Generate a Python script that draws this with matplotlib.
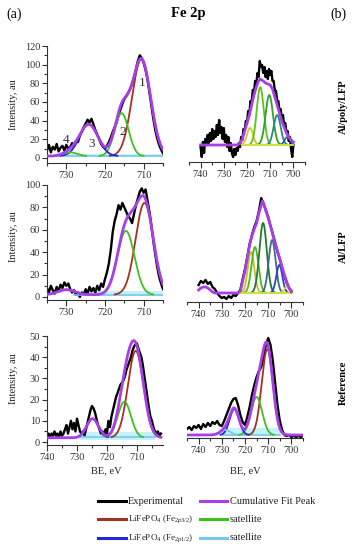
import numpy as np
import matplotlib
matplotlib.use('Agg')
import matplotlib.pyplot as plt
from matplotlib.ticker import MultipleLocator
from matplotlib.lines import Line2D

plt.rcParams['font.family'] = ['Liberation Serif', 'DejaVu Serif']
plt.rcParams['mathtext.fontset'] = 'custom'
plt.rcParams['mathtext.rm'] = 'Liberation Serif'
plt.rcParams['mathtext.it'] = 'Liberation Serif:italic'

# ---------------- colours ----------------
C_EXP = '#000000'
C_CUM = '#a83ee6'
C_P32 = '#a3321e'
C_SATG = '#3cc21c'
C_P12 = '#2424d8'
C_SATB = '#78c8ee'
C_BAND = '#c4f2f6'

# ---------------- legend ----------------
legend_labels = ['Experimental', 'Cumulative Fit Peak',
                 'LiFePO$_4$ (Fe$_{2p3/2}$)', 'satellite',
                 'LiFePO$_4$ (Fe$_{2p1/2}$)', 'satellite']
legend_colors = [C_EXP, C_CUM, C_P32, C_SATG, C_P12, C_SATB]

# ================= (a) top : Fe 2p =================
a1_be_range = (735, 705)
a1_counts = [8, 14, 6, 12, 9, 15, 7, 11, 13, 8, 14, 10, 12, 16, 13, 18, 17, 24, 28, 33,
             37, 41, 38, 42, 36, 30, 25, 20, 15, 12, 10, 13, 17, 22, 28, 33, 38, 46, 52, 58,
             63, 66, 70, 74, 79, 85, 95, 104, 110, 107, 102, 94, 84, 70, 56, 42, 30, 21, 14, 9, 5]
a1_peak_center = [710.6, 715.7, 724.2, 729.0]
a1_peak_height = [104, 46, 34, 4]
a1_peak_sigma = [2.4, 1.8, 2.4, 1.8]
a1_peak_color = [C_P32, C_SATG, C_P12, C_SATG]
a1_baseline = 2
a1_band = (733, 705, 0.5, 4.5)

# ================= (b) top : Al/poly/LFP =================
a2_be_range = (740, 700)
a2_counts = [-2, -12, 3, -8, 6, 0, 10, 2, 12, 4, 16, 6, 14, 8, 20, 10, 25, 12, 18, 6,
             17, 3, 10, -2, 8, -6, 2, -8, -12, -4, -10, -3, -6, 2, -2, 8, 5, 16, 14, 24,
             22, 34, 30, 44, 42, 55, 52, 64, 60, 72, 68, 84, 78, 80, 72, 78, 68, 74, 66, 76,
             70, 74, 64, 64, 54, 54, 44, 44, 34, 36, 26, 30, 20, 22, 12, 14, 4, 8, -4, -12, 0]
a2_cum_be = [740, 724, 723, 722, 721, 720, 719, 718, 717, 716, 715, 714.3, 713, 712, 711,
             710, 709, 708, 707, 706, 705, 704, 703, 702, 701, 700]
a2_cum = [0, 0, 2, 6, 14, 22, 30, 40, 50, 58, 64, 66, 64, 62, 61,
          60, 56, 48, 40, 32, 24, 18, 12, 8, 5, 3]
a2_peak_center = [718.7, 714.3, 710.4, 707.0, 702.6]
a2_peak_height = [17, 58, 50, 30, 8]
a2_peak_sigma = [1.3, 1.5, 1.6, 1.5, 1.2]
a2_peak_color = ['#c9cf1f', '#5cc41e', '#33a02c', '#2b8a80', '#2f5fa8']
a2_comp_base = (722, 700)

# ================= (a) middle =================
a3_be_range = (735, 705)
a3_counts = [8, 4, 10, 6, 3, 9, 5, 11, 8, 13, 10, 12, 7, 4, 6, 2, 3, 0, 4, 2,
             7, 3, 9, 5, 8, 4, 10, 6, 12, 9, 16, 22, 30, 42, 58, 68, 74, 82, 78, 84,
             80, 76, 72, 70, 66, 74, 82, 88, 94, 97, 93, 96, 86, 76, 64, 50, 38, 27, 18, 12, 7]
a3_peak_center = [709.8, 714.6, 730.0]
a3_peak_height = [82, 57, 4.5]
a3_peak_sigma = [2.3, 2.2, 2.2]
a3_peak_color = [C_P32, C_SATG, C_P12]
a3_baseline = 2
a3_band = (728, 705, 0.5, 5)

# ================= (b) middle : Al/LFP =================
a4_be_range = (740, 700)
a4_counts = [8, 12, 10, 13, 9, 11, 6, 4, 0, -3, -5, -4, -6, -3, -5, -2, -3, 0, 3, 14,
             24, 36, 49, 58, 66, 72, 82, 95, 89, 83, 76, 67, 59, 50, 41, 34, 25, 17, 10, 5, 2]
a4_cum_be = [740, 739, 738, 737, 736, 735, 734, 733, 723, 722, 721, 720, 719, 718, 717, 716,
             715, 714, 713, 712.5, 712, 711, 710, 709, 708, 707, 706, 705, 704, 703, 702, 701, 700]
a4_cum = [3, 5, 6, 6, 5, 3, 1, 0, 0, 2, 12, 22, 35, 48, 57, 64,
          70, 80, 88, 92, 90, 82, 75, 67, 58, 50, 42, 34, 26, 18, 11, 5, 1]
a4_peak_center = [717.4, 715.7, 712.2, 708.3, 705.2, 702.0]
a4_peak_height = [41, 46, 70, 53, 28, 6]
a4_peak_sigma = [1.4, 1.5, 1.6, 1.5, 1.3, 1.1]
a4_peak_color = ['#c2c21e', '#4fb41e', '#1f7a2a', '#3f6a80', '#2f3fc4', '#d8d834']
a4_comp_base = (722, 700)

# ================= (a) bottom : Reference =================
a5_be_range = (740, 702)
a5_counts = [3, 4, 2, 4, 3, 5, 3, 4, 2, 5, 3, 4, 6, 8, 4, 7, 10, 6, 9, 5,
             11, 8, 5, 4, 5, 3, 6, 9, 12, 15, 17, 16, 14, 11, 8, 6, 4, 5, 3, 6,
             4, 10, 7, 12, 15, 18, 21, 23, 25, 27, 28, 29, 31, 34, 36, 38, 40, 43, 45, 46,
             46.5, 44, 42, 40, 36, 31, 26, 21, 16, 12, 10, 7, 5, 4, 5, 3, 4]
a5_peak_center = [710.4, 714.2, 724.8]
a5_peak_height = [41, 17, 9]
a5_peak_sigma = [2.6, 2.2, 2.0]
a5_peak_color = [C_P32, C_SATG, C_P12]
a5_baseline = 2
a5_band = (729, 704, 1, 4.5)

# ================= (b) bottom : Reference =================
a6_be_range = (745, 695)
a6_counts = [4, 6, 3, 7, 5, 8, 4, 9, 6, 10, 7, 11, 9, 12, 8, 7, 12, 18, 24, 30,
             34, 35, 28, 18, 11, 8, 16, 26, 38, 48, 56, 62, 66, 76, 88, 95, 88, 72, 50, 28,
             12, 3, -2, -3, -2, -4, -3, -4, -3, -4, -3]
a6_peak_center = [710.4, 715.0, 724.6, 728.5]
a6_peak_height = [86, 38, 26, 5]
a6_peak_sigma = [2.4, 2.4, 2.0, 2.2]
a6_peak_color = [C_P32, C_SATG, C_P12, C_SATB]
a6_baseline = -2
a6_band = (730, 705, -3, 5)

W, H = 354, 550
fig = plt.figure(figsize=(W / 100, H / 100), dpi=100)


def rect(l, r, t, b):
    return [l / W, 1 - b / H, (r - l) / W, (b - t) / H]


def gauss(x, c, h, s):
    return h * np.exp(-(x - c) ** 2 / (2 * s ** 2))


def style_axes(ax, xlim, ylim, left_axis, ymaj=None, ymin=None):
    ax.set_xlim(*xlim)
    ax.set_ylim(*ylim)
    ax.spines['top'].set_visible(False)
    ax.spines['right'].set_visible(False)
    for sp in ax.spines.values():
        sp.set_linewidth(0.8)
        sp.set_color('#333333')
    ax.xaxis.set_major_locator(MultipleLocator(10))
    ax.xaxis.set_minor_locator(MultipleLocator(5))
    ax.tick_params(axis='x', which='major', direction='out', length=4, width=0.8,
                   labelsize=7.5, pad=1.5, colors='#333333')
    ax.tick_params(axis='x', which='minor', direction='out', length=2.5, width=0.8,
                   colors='#333333')
    if left_axis:
        ax.yaxis.set_major_locator(MultipleLocator(ymaj))
        ax.yaxis.set_minor_locator(MultipleLocator(ymin))
        ax.tick_params(axis='y', which='major', direction='out', length=3.5, width=0.8,
                       labelsize=7.5, pad=1.5, colors='#333333')
        ax.tick_params(axis='y', which='minor', direction='out', length=2, width=0.8,
                       colors='#333333')
    else:
        ax.spines['left'].set_visible(False)
        ax.set_yticks([])
    ax.patch.set_alpha(0)


def draw_panel(ax, be_range, counts, centers, heights, sigmas, colors,
               baseline=None, band=None, cum_be=None, cum=None, comp_base=None):
    be = np.linspace(be_range[0], be_range[1], len(counts))
    xf = np.linspace(be_range[0], be_range[1], 600)
    if band is not None:
        ax.fill_between([band[0], band[1]], band[2], band[3], color=C_BAND, lw=0, zorder=0.5)
        ax.plot([band[0], band[1]], [band[2] + 1.2, band[2] + 1.2], color=C_SATB, lw=1.2, zorder=1.5)
    ax.plot(be, counts, color=C_EXP, lw=1.7, zorder=1)
    total = np.zeros_like(xf)
    for c, h, s, col in zip(centers, heights, sigmas, colors):
        g = gauss(xf, c, h, s)
        total += g
        m = g > 0.3
        ax.plot(xf[m], g[m] + (baseline if baseline is not None else 0), color=col, lw=1.3, zorder=2)
    if comp_base is not None:
        ax.plot(list(comp_base), [0, 0], color='#cfe03a', lw=1.4, zorder=2)
    if cum is not None:
        ax.plot(cum_be, cum, color=C_CUM, lw=2.0, zorder=3)
    else:
        ax.plot(xf, total + baseline, color=C_CUM, lw=2.0, zorder=3)


# --- panel 1
ax1 = fig.add_axes(rect(47, 163, 46, 163))
style_axes(ax1, (735, 705), (-5.4, 120), True, 20, 10)
draw_panel(ax1, a1_be_range, a1_counts, a1_peak_center, a1_peak_height, a1_peak_sigma,
           a1_peak_color, baseline=a1_baseline, band=a1_band)

# --- panel 2
ax2 = fig.add_axes(rect(189, 305, 46, 162))
style_axes(ax2, (745, 695), (-17, 99), False)
draw_panel(ax2, a2_be_range, a2_counts, a2_peak_center, a2_peak_height, a2_peak_sigma,
           a2_peak_color, baseline=0, cum_be=a2_cum_be, cum=a2_cum, comp_base=a2_comp_base)

# --- panel 3
ax3 = fig.add_axes(rect(47, 163, 185, 300))
style_axes(ax3, (735, 705), (-2.7, 100), True, 20, 10)
draw_panel(ax3, a3_be_range, a3_counts, a3_peak_center, a3_peak_height, a3_peak_sigma,
           a3_peak_color, baseline=a3_baseline, band=a3_band)

# --- panel 4
ax4 = fig.add_axes(rect(187, 303, 185, 302))
style_axes(ax4, (745, 695), (-9, 108), False)
draw_panel(ax4, a4_be_range, a4_counts, a4_peak_center, a4_peak_height, a4_peak_sigma,
           a4_peak_color, baseline=0, cum_be=a4_cum_be, cum=a4_cum, comp_base=a4_comp_base)

# --- panel 5
ax5 = fig.add_axes(rect(47, 163, 336, 445))
style_axes(ax5, (740, 701.3), (-1.4, 50), True, 10, 5)
draw_panel(ax5, a5_be_range, a5_counts, a5_peak_center, a5_peak_height, a5_peak_sigma,
           a5_peak_color, baseline=a5_baseline, band=a5_band)

# --- panel 6
ax6 = fig.add_axes(rect(187, 303, 336, 438))
style_axes(ax6, (745, 695), (-5, 97), False)
draw_panel(ax6, a6_be_range, a6_counts, a6_peak_center, a6_peak_height, a6_peak_sigma,
           a6_peak_color, baseline=a6_baseline, band=a6_band)


def ftext(x, y, s, **kw):
    fig.text(x / W, 1 - y / H, s, ha=kw.pop('ha', 'center'), va=kw.pop('va', 'center'), **kw)


# titles
ftext(14, 14, '(a)', fontsize=10)
ftext(338, 14, '(b)', fontsize=10)
ftext(188, 14, 'Fe 2p', fontsize=10.5, fontweight='bold')

# y labels
for yy in (105, 237, 379):
    ftext(14, yy, 'Intensity, au', fontsize=7.5, rotation=90, color='#222222')

# sample labels
for yy, s in ((107, 'Al/poly/LFP'), (247, 'Al/LFP'), (383, 'Reference')):
    ftext(343, yy, s, fontsize=7.5, rotation=90, fontweight='bold')

# x labels
ftext(106, 471, 'BE, eV', fontsize=7.5, color='#222222')
ftext(245, 471, 'BE, eV', fontsize=7.5, color='#222222')

# peak numbers in panel 1
for (x, y, s) in ((142, 83, '1'), (123, 132, '2'), (92, 144, '3'), (66, 140, '4')):
    ftext(x, y, s, fontsize=9.5, color='#333333')

# legend
rows = [501, 519, 538]
cols = [(98, 126, 128), (200, 227, 230)]
for i, (lab, col) in enumerate(zip(legend_labels, legend_colors)):
    r, c = divmod(i, 2)
    x0, x1, xt = cols[c]
    y = 1 - rows[r] / H
    fig.add_artist(Line2D([x0 / W, x1 / W], [y, y], color=col, lw=2.2,
                          transform=fig.transFigure))
    fs = 6.5 if 'LiFePO' in lab else 7.5
    ftext(xt, rows[r], lab, fontsize=fs, ha='left', color='#222222')

fig.savefig('out.png', dpi=100)
